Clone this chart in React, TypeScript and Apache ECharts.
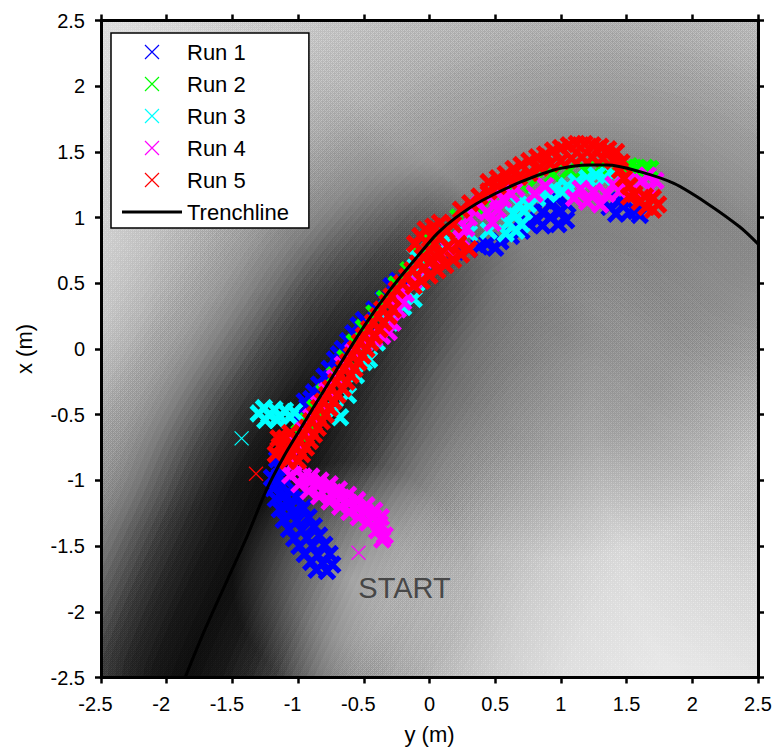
import { useEffect, useRef } from "react";
import * as echarts from "echarts";

// ---------------- data ----------------
const AXIS_MIN = -2.5;
const AXIS_MAX = 2.5;
const AXIS_STEP = 0.5;

const RUN_NAMES = ["Run 1", "Run 2", "Run 3", "Run 4", "Run 5"];
const TRENCH_NAME = "Trenchline";
const START_TEXT = "START";
const START_POS: [number, number] = [-0.19, -1.82];

// trench line, [y (m), x (m)]
const TRENCH: [number, number][] = [
  [-1.86, -2.5], [-1.72, -2.16], [-1.54, -1.76], [-1.39, -1.43], [-1.24, -1.07],
  [-1.11, -0.82], [-0.99, -0.62], [-0.8, -0.31], [-0.5, 0.17], [-0.3, 0.45],
  [-0.07, 0.73], [0.06, 0.88], [0.2, 1.0], [0.4, 1.13], [0.69, 1.27],
  [0.94, 1.36], [1.09, 1.39], [1.22, 1.4], [1.35, 1.4], [1.6, 1.35],
  [1.86, 1.26], [2.11, 1.11], [2.36, 0.93], [2.5, 0.8],
];

// first sample of each run (drawn as a lone cross)
const RUN_STARTS: ([number, number] | null)[] = [
  null, [-0.93, -0.62], [-1.43, -0.68], [-0.54, -1.55], [-1.32, -0.95],
];

const RUN1: [number, number][] = [
  [-0.78, -1.69], [-0.74, -1.64], [-0.81, -1.63], [-0.85, -1.57], [-0.89, -1.5], [-0.93, -1.44],
  [-0.97, -1.38], [-1.01, -1.31], [-1.04, -1.25], [-1.07, -1.18], [-1.1, -1.11], [-1.12, -1.04],
  [-1.14, -0.97], [-1.15, -0.9], [-1.16, -0.84],
  [-0.86, -1.68], [-0.9, -1.62], [-0.95, -1.56], [-0.99, -1.5], [-1.03, -1.44], [-1.07, -1.37],
  [-1.11, -1.3], [-1.14, -1.22], [-1.17, -1.14], [-1.19, -1.06], [-1.2, -0.98],
  [-0.76, -1.56], [-0.8, -1.49], [-0.84, -1.42], [-0.88, -1.35], [-0.92, -1.28], [-0.96, -1.21],
  [-1.0, -1.14], [-1.03, -1.07],
  [-0.99, -0.56], [-0.96, -0.5], [-0.93, -0.44], [-0.9, -0.38], [-0.95, -0.4], [-0.97, -0.55],
  [-0.88, -0.33], [-0.84, -0.27], [-0.8, -0.21], [-0.76, -0.15], [-0.72, -0.08], [-0.69, -0.04],
  [-0.66, 0.0], [-0.62, 0.06], [-0.58, 0.12], [-0.54, 0.18], [-0.5, 0.22], [-0.42, 0.3],
  [-0.35, 0.38], [-0.29, 0.48], [-0.24, 0.52], [-0.19, 0.5],
  [-0.1, 0.6], [0.05, 0.68], [0.2, 0.74], [0.3, 0.76],
  [0.38, 0.78], [0.44, 0.8], [0.5, 0.77], [0.54, 0.82], [0.62, 0.86], [0.7, 0.9], [0.76, 0.95],
  [0.82, 0.98], [0.86, 1.04], [0.86, 0.94], [0.92, 1.0], [0.92, 1.1], [0.98, 0.95], [1.0, 1.05],
  [1.04, 0.98], [0.96, 1.15], [0.88, 1.13], [1.05, 1.1],
  [1.37, 1.08], [1.42, 1.03], [1.47, 1.09], [1.52, 1.04], [1.57, 1.05], [1.6, 1.02], [1.45, 1.13],
];

const RUN2: [number, number][] = [
  [-1.05, -0.72], [-0.99, -0.64], [-0.93, -0.55], [-0.87, -0.45], [-0.8, -0.33], [-0.72, -0.2],
  [-0.64, -0.07], [-0.57, 0.05], [-0.5, 0.16], [-0.42, 0.27], [-0.34, 0.38], [-0.25, 0.49],
  [-0.16, 0.6], [-0.07, 0.71], [0.02, 0.82], [0.12, 0.92], [0.22, 1.0], [0.34, 1.08],
  [0.46, 1.14], [0.58, 1.2], [0.7, 1.25], [0.82, 1.3], [0.94, 1.33], [1.06, 1.36],
  [1.18, 1.37], [1.3, 1.38], [1.42, 1.38], [1.52, 1.39], [1.58, 1.38], [1.64, 1.38], [1.68, 1.37],
];

const RUN3: [number, number][] = [
  [-1.3, -0.49], [-1.26, -0.45], [-1.22, -0.5], [-1.18, -0.46], [-1.14, -0.51], [-1.1, -0.47],
  [-1.06, -0.52], [-1.03, -0.48], [-1.25, -0.54], [-1.16, -0.54],
  [-0.72, -0.47], [-0.68, -0.52],
  [-0.62, -0.35], [-0.56, -0.2], [-0.5, -0.1], [-0.46, -0.08], [-0.4, 0.05], [-0.3, 0.2],
  [-0.2, 0.32], [-0.12, 0.38], [-0.1, 0.5], [-0.1, 0.6], [-0.11, 0.71], [0.0, 0.75],
  [0.15, 0.82], [0.3, 0.88], [0.45, 0.9],
  [0.58, 0.88], [0.6, 0.96], [0.64, 1.03], [0.68, 1.1], [0.72, 1.05], [0.7, 0.95], [0.66, 0.9],
  [0.75, 1.1], [0.82, 1.15], [0.9, 1.18], [0.95, 1.22], [1.01, 1.2], [1.05, 1.24], [1.12, 1.27],
  [1.2, 1.3], [1.27, 1.32], [1.33, 1.3], [1.4, 1.33], [1.44, 1.28],
];

const RUN4: [number, number][] = [
  [-0.34, -1.42], [-0.36, -1.45], [-0.38, -1.33], [-0.43, -1.28], [-0.49, -1.24], [-0.55, -1.21],
  [-0.61, -1.17], [-0.67, -1.13], [-0.73, -1.09], [-0.79, -1.06], [-0.85, -1.04], [-0.91, -1.01],
  [-0.96, -0.97], [-1.01, -0.93], [-1.04, -0.88], [-1.05, -0.82],
  [-0.37, -1.28], [-0.42, -1.23], [-0.48, -1.19], [-0.55, -1.15], [-0.62, -1.11], [-0.69, -1.07],
  [-0.76, -1.03], [-0.83, -1.0], [-0.9, -0.97],
  [-0.4, -1.38], [-0.47, -1.32], [-0.54, -1.28], [-0.61, -1.24], [-0.68, -1.2], [-0.76, -1.16],
  [-0.84, -1.12], [-0.92, -1.08], [-0.99, -1.03], [-1.06, -0.96],
  [-1.02, -0.72], [-0.96, -0.62], [-0.9, -0.52], [-0.84, -0.42], [-0.78, -0.32], [-0.72, -0.22],
  [-0.66, -0.12], [-0.58, -0.02], [-0.5, 0.04], [-0.42, 0.08], [-0.36, 0.1], [-0.31, 0.13],
  [-0.28, 0.2], [-0.24, 0.3], [-0.2, 0.36], [-0.18, 0.42], [-0.12, 0.52], [-0.05, 0.6],
  [0.05, 0.68], [0.15, 0.76], [0.24, 0.84],
  [0.28, 0.92], [0.3, 1.0], [0.33, 1.06], [0.38, 1.1], [0.44, 1.04], [0.48, 0.96], [0.52, 1.06],
  [0.56, 1.14], [0.62, 1.18], [0.66, 1.22], [0.54, 1.2], [0.46, 1.16],
  [0.8, 1.18], [0.88, 1.24], [1.1, 1.15], [1.15, 1.22], [1.2, 1.12], [1.25, 1.2], [1.3, 1.1],
  [1.35, 1.18], [1.4, 1.25], [1.45, 1.2], [1.5, 1.28], [1.56, 1.22], [1.62, 1.27], [1.68, 1.22],
  [1.72, 1.28], [1.66, 1.32],
];

const RUN5: [number, number][] = [
  [-1.17, -0.8], [-1.14, -0.74], [-1.1, -0.68], [-1.06, -0.64], [-1.15, -0.68], [-1.1, -0.78], [-1.05, -0.72],
  [-1.08, -0.85], [-1.05, -0.8], [-1.02, -0.75], [-0.99, -0.7], [-0.96, -0.65], [-0.93, -0.6],
  [-0.9, -0.55], [-0.87, -0.5], [-0.84, -0.45], [-0.81, -0.4], [-0.78, -0.35], [-0.75, -0.3],
  [-0.71, -0.25], [-0.68, -0.2], [-0.65, -0.15], [-0.62, -0.1], [-0.59, -0.05], [-0.56, 0.0],
  [-0.53, 0.05], [-0.5, 0.1], [-0.46, 0.15], [-0.43, 0.2], [-0.39, 0.25], [-0.36, 0.3],
  [-0.32, 0.35], [-0.29, 0.4], [-0.25, 0.45], [-0.21, 0.5], [-0.17, 0.55], [-0.13, 0.6],
  [-0.09, 0.65], [-0.05, 0.7], [0.0, 0.75], [0.04, 0.8], [0.08, 0.85], [0.13, 0.9], [0.18, 0.95],
  [0.24, 1.06], [0.31, 1.11], [0.38, 1.16], [0.45, 1.2], [0.52, 1.24], [0.6, 1.28], [0.68, 1.31], [0.76, 1.34],
  [0.45, 1.27], [0.52, 1.3], [0.58, 1.33], [0.64, 1.37], [0.7, 1.4], [0.76, 1.43], [0.82, 1.46],
  [0.88, 1.48], [0.94, 1.51], [1.0, 1.53], [1.06, 1.55], [1.12, 1.56], [1.18, 1.56], [1.24, 1.55],
  [1.3, 1.54], [1.36, 1.52], [1.42, 1.5],
  [0.84, 1.38], [0.92, 1.41], [1.0, 1.43], [1.08, 1.45], [1.16, 1.46], [1.24, 1.46], [1.32, 1.45],
  [1.4, 1.43], [1.46, 1.42],
  [1.45, 1.36], [1.48, 1.3], [1.52, 1.24], [1.56, 1.18], [1.6, 1.12], [1.65, 1.08], [1.7, 1.06],
  [1.74, 1.1], [1.7, 1.15], [1.64, 1.16], [1.52, 1.16],
  [-1.0, -0.85], [-0.97, -0.8], [-0.94, -0.75], [-0.91, -0.7], [-0.88, -0.65], [-0.85, -0.6],
  [-0.82, -0.55], [-0.79, -0.5], [-0.76, -0.45], [-0.73, -0.4], [-0.7, -0.35], [-0.66, -0.3],
  [-0.63, -0.25], [-0.6, -0.2], [-0.57, -0.15], [-0.54, -0.1], [-0.51, -0.05], [-0.48, 0.0],
  [-0.45, 0.05], [-0.42, 0.1], [-0.38, 0.15], [-0.35, 0.2], [-0.31, 0.25], [-0.28, 0.3],
  [-0.12, 0.48], [-0.06, 0.52], [0.0, 0.56], [0.06, 0.6], [0.12, 0.64], [0.18, 0.68], [0.24, 0.72],
  [0.3, 0.76], [0.22, 0.8], [0.14, 0.78], [0.08, 0.72], [0.02, 0.68], [-0.04, 0.62],
  [-0.11, 0.8], [-0.07, 0.86], [-0.03, 0.91], [0.03, 0.93], [0.08, 0.96],
];

const RUNS = [RUN1, RUN2, RUN3, RUN4, RUN5];

// ---------------- styles ----------------
const RUN_COLORS = ["#0000ff", "#00ff00", "#00ffff", "#ff00ff", "#ff0000"];
const FONT = '"Liberation Sans", Arial, Helvetica, sans-serif';
const X_PATH = "path://M0,0L10,10M10,0L0,10";
const BAR_PATH = "path://M0,0H60V3H0Z";

// plot frame (px)
const PLOT = { left: 101, top: 20.5, width: 657, height: 657 };
const PAGE = { width: 776, height: 756 };

// shading of the ground: brightness against distance (px) from the trench line
const BG_BASE = 0.96;
const BG_STEP = 7;
const BG_COUNT = 66;
const BG_DEEP: [number, number][] = [
  [0, 0.03], [30, 0.06], [60, 0.13], [80, 0.21], [105, 0.33], [130, 0.44], [155, 0.53],
  [190, 0.63], [225, 0.71], [280, 0.8], [346, 0.88], [420, 0.92], [462, 0.94],
];
const BG_SHALLOW: [number, number][] = [
  [0, 0.5], [30, 0.52], [60, 0.56], [100, 0.62], [150, 0.68], [200, 0.73], [260, 0.78],
  [330, 0.83], [462, 0.88],
];
// soft corrections of the shading: [centre y, centre x, radius (m), rgb, alpha at centre, alpha at half radius]
const BG_TINTS: [number, number, number, string, number, number][] = [
  [1.0, 0.1, 1.7, "0,0,0", 0.22, 0.15],
  [-0.6, -1.75, 0.9, "255,255,255", 0.4, 0.25],
  [-2.5, 0.2, 1.6, "255,255,255", 0.22, 0.11],
];

function profileAt(p: [number, number][], d: number): number {
  if (d <= p[0][0]) return p[0][1];
  for (let i = 1; i < p.length; i++) {
    if (d <= p[i][0]) {
      const [d0, b0] = p[i - 1];
      const [d1, b1] = p[i];
      return b0 + ((b1 - b0) * (d - d0)) / (d1 - d0);
    }
  }
  return p[p.length - 1][1];
}

function layerAlphas(p: [number, number][]): number[] {
  const t: number[] = [];
  for (let k = 0; k < BG_COUNT; k++) t.push(Math.min(BG_BASE, profileAt(p, (k + 0.5) * BG_STEP)));
  t.push(BG_BASE);
  const a: number[] = [];
  for (let k = 0; k < BG_COUNT; k++) a.push(Math.max(0, 1 - t[k] / t[k + 1]));
  return a;
}

function buildOption() {
  const deep = layerAlphas(BG_DEEP);
  const shallow = layerAlphas(BG_SHALLOW);
  const bgSeries = [];
  for (let k = 0; k < BG_COUNT; k++) {
    const ad = deep[k].toFixed(4);
    const as = shallow[k].toFixed(4);
    bgSeries.push({
      type: "line",
      name: "bg" + k,
      data: TRENCH,
      symbol: "none",
      showSymbol: false,
      smooth: 0.3,
      silent: true,
      z: 1,
      lineStyle: {
        width: 2 * (k + 1) * BG_STEP,
        cap: "round",
        join: "round",
        color: {
          type: "linear",
          x: 0, y: 1, x2: 1, y2: 0,
          colorStops: [
            { offset: 0, color: `rgba(0,0,0,${ad})` },
            { offset: 0.3, color: `rgba(0,0,0,${ad})` },
            { offset: 0.72, color: `rgba(0,0,0,${as})` },
            { offset: 1, color: `rgba(0,0,0,${as})` },
          ],
        },
      },
    });
  }

  const runSeries = RUNS.map((pts, i) => {
    const data: any[] = [];
    const s = RUN_STARTS[i];
    if (s) data.push({ value: s, symbolSize: 14, itemStyle: { borderWidth: 1.3 } });
    pts.forEach((p) => data.push(p));
    return {
      type: "scatter",
      name: RUN_NAMES[i],
      data,
      symbol: X_PATH,
      symbolSize: 15,
      silent: true,
      z: 3,
      itemStyle: { color: "rgba(0,0,0,0)", borderColor: RUN_COLORS[i], borderWidth: 5, opacity: 1 },
    };
  });

  const axisCommon = {
    type: "value",
    min: AXIS_MIN,
    max: AXIS_MAX,
    interval: AXIS_STEP,
    z: 10,
    splitLine: { show: false },
    axisLine: { show: true, onZero: false, lineStyle: { color: "#000", width: 3 } },
    axisTick: { show: true, inside: false, length: 6, lineStyle: { color: "#000", width: 2.5 } },
    nameMoveOverlap: false,
  };

  const right = PLOT.left + PLOT.width;
  const bottom = PLOT.top + PLOT.height;
  const span = AXIS_MAX - AXIS_MIN;
  const tints = BG_TINTS.map(([cy, cx, r, rgb, a0, a1]) => ({
    type: "rect",
    z: 1.5,
    silent: true,
    shape: { x: PLOT.left, y: PLOT.top, width: PLOT.width, height: PLOT.height },
    style: {
      fill: {
        type: "radial",
        x: (cy - AXIS_MIN) / span,
        y: (AXIS_MAX - cx) / span,
        r: r / span,
        colorStops: [
          { offset: 0, color: `rgba(${rgb},${a0})` },
          { offset: 0.5, color: `rgba(${rgb},${a1})` },
          { offset: 1, color: `rgba(${rgb},0)` },
        ],
      },
    },
  }));
  const maskStyle = { fill: "#ffffff" };
  const masks = [
    { type: "rect", z: 2, silent: true, shape: { x: 0, y: 0, width: PAGE.width, height: PLOT.top }, style: maskStyle },
    { type: "rect", z: 2, silent: true, shape: { x: 0, y: bottom, width: PAGE.width, height: PAGE.height - bottom }, style: maskStyle },
    { type: "rect", z: 2, silent: true, shape: { x: 0, y: 0, width: PLOT.left, height: PAGE.height }, style: maskStyle },
    { type: "rect", z: 2, silent: true, shape: { x: right, y: 0, width: PAGE.width - right, height: PAGE.height }, style: maskStyle },
  ];

  return {
    animation: false,
    backgroundColor: "#ffffff",
    graphic: { elements: [...tints, ...masks] },
    grid: {
      left: PLOT.left,
      top: PLOT.top,
      width: PLOT.width,
      height: PLOT.height,
      show: true,
      backgroundColor: "rgb(245,245,245)",
      borderWidth: 0,
      containLabel: false,
      outerBoundsMode: "none",
    },
    legend: {
      orient: "vertical",
      left: 111,
      top: 33,
      padding: [8, 20, 5, 11],
      itemWidth: 60,
      itemHeight: 14,
      itemGap: 10,
      selectedMode: false,
      backgroundColor: "#ffffff",
      borderColor: "#000000",
      borderWidth: 1.5,
      z: 12,
      textStyle: { fontFamily: FONT, fontSize: 22, color: "#000" },
      data: [
        ...RUN_NAMES.map((n, i) => ({
          name: n,
          icon: X_PATH,
          itemStyle: { color: "rgba(0,0,0,0)", borderColor: RUN_COLORS[i], borderWidth: 1.2 },
        })),
        { name: TRENCH_NAME, icon: BAR_PATH, itemStyle: { color: "#000", borderWidth: 0 } },
      ],
    },
    xAxis: [
      {
        ...axisCommon,
        position: "bottom",
        name: "y (m)",
        nameLocation: "middle",
        nameGap: 46,
        nameTextStyle: { fontFamily: FONT, fontSize: 22, color: "#000" },
        axisLabel: {
          margin: 16,
          color: "#000",
          fontSize: 20,
          fontFamily: FONT,
          showMinLabel: true,
          showMaxLabel: true,
          formatter: (v: number) => (v < 0 ? `{neg|${v}}` : `${v}`),
          rich: { neg: { padding: [0, 11, 0, 0], fontSize: 20, fontFamily: FONT, color: "#000" } },
        },
      },
      { ...axisCommon, position: "top", axisLabel: { show: false } },
    ],
    yAxis: [
      {
        ...axisCommon,
        position: "left",
        name: "x (m)",
        nameLocation: "middle",
        nameGap: 66,
        nameTextStyle: { fontFamily: FONT, fontSize: 22, color: "#000" },
        axisLabel: {
          margin: 16,
          color: "#000",
          fontSize: 20,
          fontFamily: FONT,
          showMinLabel: true,
          showMaxLabel: true,
        },
      },
      { ...axisCommon, position: "right", axisLabel: { show: false } },
    ],
    series: [
      ...bgSeries,
      ...runSeries,
      {
        type: "line",
        name: TRENCH_NAME,
        data: TRENCH,
        symbol: "none",
        showSymbol: false,
        smooth: 0.3,
        silent: true,
        z: 5,
        lineStyle: { color: "#000", width: 3 },
      },
      {
        type: "scatter",
        name: START_TEXT,
        data: [START_POS],
        symbolSize: 1,
        silent: true,
        z: 4,
        itemStyle: { color: "rgba(0,0,0,0)" },
        label: {
          show: true,
          position: "inside",
          formatter: START_TEXT,
          fontFamily: FONT,
          fontSize: 29,
          color: "#2b2b2b",
        },
      },
    ],
  };
}

export default function App() {
  const ref = useRef<HTMLDivElement>(null);
  useEffect(() => {
    if (!ref.current) return;
    const chart = echarts.init(ref.current, null, { renderer: "svg" });
    chart.setOption(buildOption() as any);
    return () => chart.dispose();
  }, []);
  return (
    <div
      ref={ref}
      style={{ position: "absolute", left: 0, top: 0, width: PAGE.width, height: PAGE.height, background: "#fff" }}
    />
  );
}
